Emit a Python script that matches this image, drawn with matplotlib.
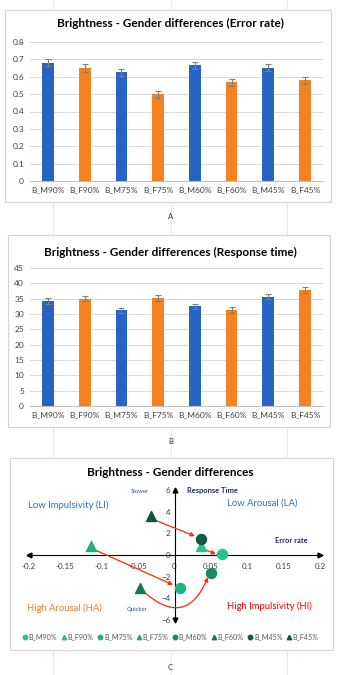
import matplotlib
matplotlib.use("Agg")
import matplotlib.pyplot as plt
from matplotlib.patches import Rectangle
from matplotlib.lines import Line2D

plt.rcParams['font.family'] = ['Lato', 'DejaVu Sans']

# data
labels = ['B_M90%', 'B_F90%', 'B_M75%', 'B_F75%', 'B_M60%', 'B_F60%', 'B_M45%', 'B_F45%']
error_rate = [0.68, 0.65, 0.625, 0.50, 0.665, 0.568, 0.652, 0.58]
error_rate_err = [0.02, 0.022, 0.02, 0.02, 0.022, 0.02, 0.02, 0.02]
resp_time = [34.2, 35.0, 31.2, 35.2, 32.5, 31.3, 35.7, 37.9]
resp_time_err = [0.9, 0.9, 0.9, 0.9, 0.9, 0.9, 0.8, 0.9]

# panel C: change in error rate (x) and response time (y)
diff_x = [0.065, 0.037, 0.008, -0.115, 0.05, -0.047, 0.037, -0.032]
diff_y = [0.05, 0.8, -3.0, 0.8, -1.7, -3.0, 1.5, 3.6]
diff_marker = ['o', '^', 'o', '^', 'o', '^', 'o', '^']
diff_color = ['#20c48c', '#2cc08f', '#1db583', '#27a978', '#178a62', '#147a56', '#0f5a43', '#0e5440']

# arrows (from F to M)
arrows = [((-0.03, 3.3), (0.028, 1.75), 0.0),
          ((0.04, 0.55), (0.057, 0.08), 0.0),
          ((-0.112, 0.55), (-0.002, -2.75), 0.0),
          ((-0.042, -3.4), (0.046, -2.05), 0.7)]

quad_text = [(-0.146, 4.6, 'Low Impulsivity (LI)', '#2e75b6'),
             (0.120, 4.8, 'Low Arousal (LA)', '#2e75b6'),
             (-0.152, -4.9, 'High Arousal (HA)', '#ed7d31'),
             (0.131, -4.7, 'High Impulsivity (HI)', '#ff0000')]

blue = '#2764c4'
orange = '#f58220'
bar_colors = [blue, orange] * 4

W, H = 341, 675
fig = plt.figure(figsize=(W / 100, H / 100), dpi=100)


def fx(px):
    return px / W


def fy(py):
    return 1 - py / H


def box(x0, y0, x1, y1):
    fig.patches.append(Rectangle((fx(x0), fy(y1)), fx(x1 - x0), (y1 - y0) / H,
                                 transform=fig.transFigure, fill=False,
                                 edgecolor='#d4d4d4', linewidth=0.8))


# faint worksheet lines in the gaps
for gx in [53, 171, 287]:
    for (a, b) in [(0, 10), (202, 236), (428, 458), (650, 675)]:
        fig.add_artist(Line2D([fx(gx), fx(gx)], [fy(a), fy(b)], color='#e4e4e4',
                              linewidth=0.6, transform=fig.transFigure))

box(5, 10, 331, 202)
box(8, 235, 330, 427)
box(10, 458, 333, 650)


def bar_panel(top, bottom, values, errs, ymax, step, title, title_y, fmt):
    ax = fig.add_axes([fx(29.6), fy(bottom), fx(323.4 - 29.6), (bottom - top) / H])
    xs = range(len(labels))
    ax.bar(xs, values, width=0.32, color=bar_colors, zorder=3)
    ax.errorbar(xs, values, yerr=errs, fmt='none', ecolor='#7f7f7f',
                elinewidth=0.8, capsize=2, capthick=0.8, zorder=4)
    ax.set_xlim(-0.5, len(labels) - 0.5)
    ax.set_ylim(0, ymax)
    ticks = [i * step for i in range(int(round(ymax / step)) + 1)]
    ax.set_yticks(ticks)
    ax.set_yticklabels([fmt(t) for t in ticks])
    ax.set_xticks(list(xs))
    ax.set_xticklabels(labels)
    ax.tick_params(length=0, labelsize=6, colors='#404040', pad=4)
    ax.grid(axis='y', color='#d9d9d9', linewidth=0.7, zorder=0)
    for s in ['top', 'right', 'left']:
        ax.spines[s].set_visible(False)
    ax.spines['bottom'].set_color('#bfbfbf')
    ax.spines['bottom'].set_linewidth(0.7)
    ax.patch.set_alpha(0)
    fig.text(0.5, fy(title_y), title, ha='center', va='center',
             fontsize=8.5, fontweight='bold', color='#000000')
    return ax


bar_panel(42, 181, error_rate, error_rate_err, 0.8, 0.1,
          'Brightness - Gender differences (Error rate)', 23,
          lambda t: '0' if t == 0 else f'{t:.1f}')
fig.text(0.5, fy(216), 'A', ha='center', va='center', fontsize=5.5, color='#333333')

bar_panel(268, 406, resp_time, resp_time_err, 45, 5,
          'Brightness - Gender differences (Response time)', 252,
          lambda t: f'{t:.0f}')
fig.text(0.5, fy(442), 'B', ha='center', va='center', fontsize=5.5, color='#333333')

# panel C
ax = fig.add_axes([fx(29), fy(620), fx(320 - 29), 130 / H])
ax.set_xlim(-0.2, 0.2)
ax.set_ylim(-6, 6)
ax.patch.set_alpha(0)
ax.spines['left'].set_position(('data', 0))
ax.spines['bottom'].set_position(('data', 0))
ax.spines['top'].set_visible(False)
ax.spines['right'].set_visible(False)
for s in ['left', 'bottom']:
    ax.spines[s].set_linewidth(0.8)
xt = [-0.2, -0.15, -0.1, -0.05, 0, 0.05, 0.1, 0.15, 0.2]
ax.set_xticks(xt)
ax.set_xticklabels(['0' if v == 0 else f'{v:g}' for v in xt])
ax.set_yticks([-6, -4, -2, 0, 2, 4, 6])
ax.tick_params(length=0, labelsize=5.8, colors='#404040')
ax.tick_params(axis='x', pad=6)
ax.tick_params(axis='y', pad=3)
ax.plot(0.2, 0, '>k', ms=3.5, clip_on=False, zorder=5)
ax.plot(-0.2, 0, '<k', ms=3.5, clip_on=False, zorder=5)
ax.plot(0, 6, '^k', ms=3.5, clip_on=False, zorder=5)
ax.plot(0, -6, 'vk', ms=3.5, clip_on=False, zorder=5)

for (p0, p1, rad) in arrows:
    ax.annotate('', xy=p1, xytext=p0,
                arrowprops=dict(arrowstyle='-|>', color='#ff2a00', lw=0.9,
                                mutation_scale=6, shrinkA=0, shrinkB=0,
                                connectionstyle=f'arc3,rad={rad}'), zorder=4)

for i, lab in enumerate(labels):
    ax.scatter(diff_x[i], diff_y[i], marker=diff_marker[i], s=52,
               color=diff_color[i], zorder=6, clip_on=False, label=lab)

for (tx, ty, t, c) in quad_text:
    ax.text(tx, ty, t, ha='center', va='center', fontsize=6.8, color=c)
ax.text(-0.047, 5.9, 'Slower', ha='center', va='center', fontsize=4.3, color='#2f4f9f')
ax.text(-0.051, -5.0, 'Quicker', ha='center', va='center', fontsize=4.3, color='#2f4f9f')
ax.text(0.052, 6.0, 'Response Time', ha='center', va='center', fontsize=5.4,
        fontweight='bold', color='#1f2a60')
ax.text(0.161, 1.3, 'Error rate', ha='center', va='center', fontsize=5.4,
        fontweight='bold', color='#1f2a60')

fig.text(0.5, fy(473), 'Brightness - Gender differences', ha='center', va='center',
         fontsize=8.5, fontweight='bold', color='#000000')

handles = [Line2D([], [], marker=diff_marker[i], linestyle='none', color=diff_color[i],
                  markersize=3.2) for i in range(len(labels))]
fig.legend(handles, labels, loc='center', bbox_to_anchor=(0.5, fy(637)), ncol=8,
           frameon=False, fontsize=5.1, handletextpad=0.1, columnspacing=0.55,
           handlelength=0.8, labelcolor='#555555')

fig.text(0.5, fy(668), 'C', ha='center', va='center', fontsize=5.5, color='#333333')

fig.savefig('out.png', dpi=100)
